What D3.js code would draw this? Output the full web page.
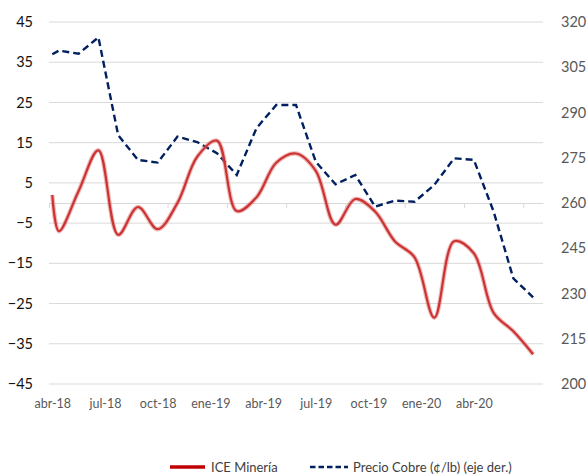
<!DOCTYPE html>
<html>
<head>
<meta charset="utf-8">
<script src="https://cdn.jsdelivr.net/npm/d3@7"></script>
<style>
  body { margin: 0; background: #fff; }
  text { font-family: Lato, "Noto Sans", sans-serif; }
</style>
</head>
<body>
<div id="chart"></div>
<script>
// Data (period index on a 75-step category axis, ~3 steps per month)
var periodo = [0, 1, 4, 7, 10, 13, 16, 19, 22, 25, 28, 31, 34, 37, 40, 43, 46, 49, 52, 55, 58, 61, 64, 67, 70, 73];
var iceMineria = [2, -7, 3, 13.1, -7.9, -1, -6.5, 0, 11.5, 15.5, -2, 1.4, 10, 12.3, 8, -5.4, 1, -2.1, -9.5, -13.5, -28.5, -9.5, -12.5, -27.3, -31.9, -37.6];
var precioCobre = [309.3, 310.5, 309.5, 314.9, 282.5, 274.3, 273.4, 282, 280.2, 276.5, 269.3, 284.8, 292.5, 292.5, 273.7, 266.2, 269.3, 258.8, 260.8, 260.4, 266, 274.8, 274.3, 257.2, 235, 228.7];

var xLabels = ["abr-18", "jul-18", "oct-18", "ene-19", "abr-19", "jul-19", "oct-19", "ene-20", "abr-20"];
var labelEvery = 8;
var tickEvery = 9;
var leftTicks = [-45, -35, -25, -15, -5, 5, 15, 25, 35, 45];
var rightTicks = [200, 215, 230, 245, 260, 275, 290, 305, 320];

// Chart parameters
var svgWidth = 587;
var svgHeight = 475;

var margin = { top: 22, right: 44, bottom: 91, left: 49 };

var width = svgWidth - margin.left - margin.right;
var height = svgHeight - margin.top - margin.bottom;

var svg = d3.select("#chart")
  .append("svg")
  .attr("width", svgWidth)
  .attr("height", svgHeight);

var chartGroup = svg.append("g")
  .attr("transform", `translate(${margin.left}, ${margin.top})`);

// Scales
var xScale = d3.scaleLinear()
  .domain([-0.5, 74.5])
  .range([0, width]);

var yLeft = d3.scaleLinear()
  .domain([-45, 45])
  .range([height, 0]);

var yRight = d3.scaleLinear()
  .domain([200, 320])
  .range([height, 0]);

// Gridlines
chartGroup.append("g")
  .selectAll("line")
  .data(leftTicks)
  .enter()
  .append("line")
  .attr("x1", 0)
  .attr("x2", width)
  .attr("y1", d => yLeft(d))
  .attr("y2", d => yLeft(d))
  .attr("stroke", "#d9d9d9")
  .attr("stroke-width", 1);

// Left axis
var leftAxis = d3.axisLeft(yLeft).tickValues(leftTicks).tickSize(0).tickPadding(16);
chartGroup.append("g")
  .call(leftAxis)
  .call(g => g.select(".domain").remove())
  .selectAll("text")
  .attr("fill", "#111")
  .style("font-size", "14.5px");

// Right axis
var rightAxis = d3.axisRight(yRight).tickValues(rightTicks).tickSize(0).tickPadding(18);
chartGroup.append("g")
  .attr("transform", `translate(${width}, 0)`)
  .call(rightAxis)
  .call(g => g.select(".domain").remove())
  .selectAll("text")
  .attr("fill", "#595959")
  .style("font-size", "14.5px");

// Category axis line at zero with tick marks
var tickVals = d3.range(-0.5, 75, tickEvery);
var catAxis = d3.axisBottom(xScale).tickValues(tickVals).tickFormat("").tickSizeInner(5).tickSizeOuter(0);
var catG = chartGroup.append("g")
  .attr("transform", `translate(0, ${yLeft(0)})`)
  .call(catAxis);
catG.select(".domain").attr("stroke", "#d9d9d9");
catG.selectAll(".tick line").attr("stroke", "#d9d9d9");

// Category labels below the plot
var labelAxis = d3.axisBottom(xScale)
  .tickValues(xLabels.map((d, i) => i * labelEvery))
  .tickFormat((d, i) => xLabels[i])
  .tickSize(0)
  .tickPadding(15);
chartGroup.append("g")
  .attr("transform", `translate(0, ${height})`)
  .call(labelAxis)
  .call(g => g.select(".domain").remove())
  .selectAll("text")
  .attr("fill", "#595959")
  .style("font-size", "12.5px");

// Lines
var copperLine = d3.line()
  .x((d, i) => xScale(periodo[i]))
  .y(d => yRight(d));

chartGroup.append("path")
  .datum(precioCobre)
  .attr("d", copperLine)
  .attr("fill", "none")
  .attr("stroke", "#002060")
  .attr("stroke-width", 2.4)
  .attr("stroke-dasharray", "7,4");

var iceLine = d3.line()
  .x((d, i) => xScale(periodo[i]))
  .y(d => yLeft(d))
  .curve(d3.curveCatmullRom);

chartGroup.append("path")
  .datum(iceMineria)
  .attr("d", iceLine)
  .attr("fill", "none")
  .attr("stroke", "#dc6a6a")
  .attr("stroke-opacity", 0.45)
  .attr("stroke-width", 4.5);

chartGroup.append("path")
  .datum(iceMineria)
  .attr("d", iceLine)
  .attr("fill", "none")
  .attr("stroke", "#cc3333")
  .attr("stroke-width", 2.2);

// Legend
var legend = svg.append("g").attr("transform", "translate(0, 467)");

legend.append("line")
  .attr("x1", 170).attr("x2", 205)
  .attr("stroke", "#c00000")
  .attr("stroke-width", 3.5);

legend.append("text")
  .attr("x", 211)
  .attr("y", 4.5)
  .attr("fill", "#404040")
  .style("font-size", "13px")
  .text("ICE Minería");

legend.append("line")
  .attr("x1", 310).attr("x2", 348)
  .attr("stroke", "#002060")
  .attr("stroke-width", 2.5)
  .attr("stroke-dasharray", "5.5,3");

legend.append("text")
  .attr("x", 353)
  .attr("y", 4.5)
  .attr("fill", "#404040")
  .style("font-size", "13px")
  .text("Precio Cobre (¢/lb) (eje der.)");
</script>
</body>
</html>
